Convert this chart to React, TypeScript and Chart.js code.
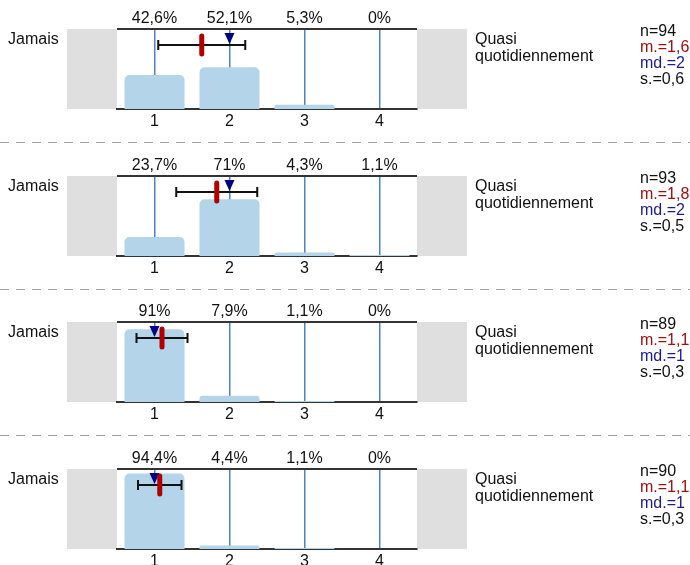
import React, { useEffect, useRef } from 'react';
import { Chart, registerables } from 'chart.js';

Chart.register(...registerables);

const FONT = '"Liberation Sans", Arial, sans-serif';

const categories = ['1', '2', '3', '4'];
const panel1 = [42.6, 52.1, 5.3, 0];
const panel2 = [23.7, 71, 4.3, 1.1];
const panel3 = [91, 7.9, 1.1, 0];
const panel4 = [94.4, 4.4, 1.1, 0];
const percentages = [panel1, panel2, panel3, panel4];
const counts = [94, 93, 89, 90];
const means = [1.63, 1.83, 1.1, 1.07];
const medians = [2, 2, 1, 1];
const sds = [0.58, 0.54, 0.34, 0.29];
const leftLabel = 'Jamais';
const rightLabel = ['Quasi', 'quotidiennement'];
const panelTops = [0, 147, 293, 440];

const fmt = (v: number) => String(Number(v.toFixed(1))).replace('.', ',');

function Panel({ index }: { index: number }) {
  const ref = useRef<HTMLCanvasElement>(null);
  useEffect(() => {
    const canvas = ref.current;
    if (!canvas) return;
    const vals = percentages[index];
    const overlay = {
      id: 'overlay',
      beforeDraw(chart: any) {
        const { ctx, chartArea: a } = chart;
        ctx.save();
        ctx.fillStyle = '#dfdfdf';
        ctx.fillRect(a.left - 50, a.top, 50, a.bottom - a.top);
        ctx.fillRect(a.right, a.top, 50, a.bottom - a.top);
        ctx.restore();
      },
      afterDraw(chart: any) {
        const { ctx, chartArea: a } = chart;
        const xs = chart.scales.x;
        ctx.save();
        // top line
        ctx.strokeStyle = '#333';
        ctx.lineWidth = 2;
        ctx.beginPath();
        ctx.moveTo(a.left, a.top);
        ctx.lineTo(a.right, a.top);
        ctx.stroke();
        // percentage labels
        ctx.font = `16px ${FONT}`;
        ctx.fillStyle = '#111';
        ctx.textAlign = 'center';
        ctx.textBaseline = 'middle';
        vals.forEach((v, i) => {
          ctx.fillText(fmt(v) + '%', xs.getPixelForValue(i), a.top - 10);
        });
        // error bar
        const y = a.top + 16;
        const x1 = xs.getPixelForValue(means[index] - sds[index] - 1);
        const x2 = xs.getPixelForValue(means[index] + sds[index] - 1);
        ctx.strokeStyle = '#111';
        ctx.lineWidth = 2;
        ctx.beginPath();
        ctx.moveTo(x1, y);
        ctx.lineTo(x2, y);
        ctx.moveTo(x1, y - 5);
        ctx.lineTo(x1, y + 5);
        ctx.moveTo(x2, y - 5);
        ctx.lineTo(x2, y + 5);
        ctx.stroke();
        // median triangle
        const xm = xs.getPixelForValue(medians[index] - 1);
        ctx.fillStyle = '#000088';
        ctx.beginPath();
        ctx.moveTo(xm - 5, a.top + 4);
        ctx.lineTo(xm + 5, a.top + 4);
        ctx.lineTo(xm, a.top + 15);
        ctx.closePath();
        ctx.fill();
        // mean marker
        const xa = xs.getPixelForValue(means[index] - 1);
        ctx.strokeStyle = '#b00000';
        ctx.lineWidth = 5;
        ctx.lineCap = 'round';
        ctx.beginPath();
        ctx.moveTo(xa, a.top + 7);
        ctx.lineTo(xa, a.top + 25);
        ctx.stroke();
        ctx.lineCap = 'butt';
        // left / right labels
        ctx.textAlign = 'left';
        ctx.fillStyle = '#111';
        ctx.fillText(leftLabel, 8, 40);
        ctx.fillText(rightLabel[0], 475, 40);
        ctx.fillText(rightLabel[1], 475, 57);
        // stats
        ctx.fillStyle = '#111';
        ctx.fillText('n=' + counts[index], 640, 32);
        ctx.fillStyle = '#a01010';
        ctx.fillText('m.=' + fmt(means[index]), 640, 48);
        ctx.fillStyle = '#1a1a99';
        ctx.fillText('md.=' + fmt(medians[index]), 640, 64);
        ctx.fillStyle = '#111';
        ctx.fillText('s.=' + fmt(sds[index]), 640, 80);
        // dashed separator
        if (index < 3) {
          ctx.strokeStyle = '#a0a0a0';
          ctx.lineWidth = 1;
          ctx.setLineDash([9, 7]);
          ctx.beginPath();
          ctx.moveTo(0, 142.5);
          ctx.lineTo(690, 142.5);
          ctx.stroke();
        }
        ctx.restore();
      },
    };
    const chart = new Chart(canvas, {
      type: 'bar',
      data: {
        labels: categories,
        datasets: [
          {
            data: vals,
            backgroundColor: '#b4d4ea',
            borderRadius: 5,
            barPercentage: 1,
            categoryPercentage: 0.8,
          },
        ],
      },
      options: {
        responsive: false,
        animation: false,
        devicePixelRatio: 1,
        events: [],
        layout: { padding: { left: 117, right: 273, top: 29, bottom: 0 } },
        plugins: { legend: { display: false }, tooltip: { enabled: false } },
        scales: {
          x: {
            type: 'category',
            offset: true,
            z: 1,
            grid: { offset: false, color: '#4a86c0', lineWidth: 1.5, drawTicks: false },
            border: { display: true, color: '#333', width: 2 },
            ticks: { color: '#111', font: { size: 16, family: FONT }, padding: 3 },
            afterFit(scale: any) {
              scale.height = 38;
            },
          },
          y: { display: false, min: 0, max: 100 },
        },
      },
      plugins: [overlay],
    } as any);
    return () => chart.destroy();
  }, [index]);
  return (
    <div style={{ position: 'absolute', left: 0, top: panelTops[index], width: 690, height: 147 }}>
      <canvas ref={ref} width={690} height={147} style={{ width: 690, height: 147, display: 'block' }} />
    </div>
  );
}

export default function App() {
  return (
    <div
      style={{
        position: 'fixed',
        left: 0,
        top: 0,
        width: 690,
        height: 565,
        overflow: 'hidden',
        background: '#fff',
      }}
    >
      {[0, 1, 2, 3].map((i) => (
        <Panel key={i} index={i} />
      ))}
    </div>
  );
}
